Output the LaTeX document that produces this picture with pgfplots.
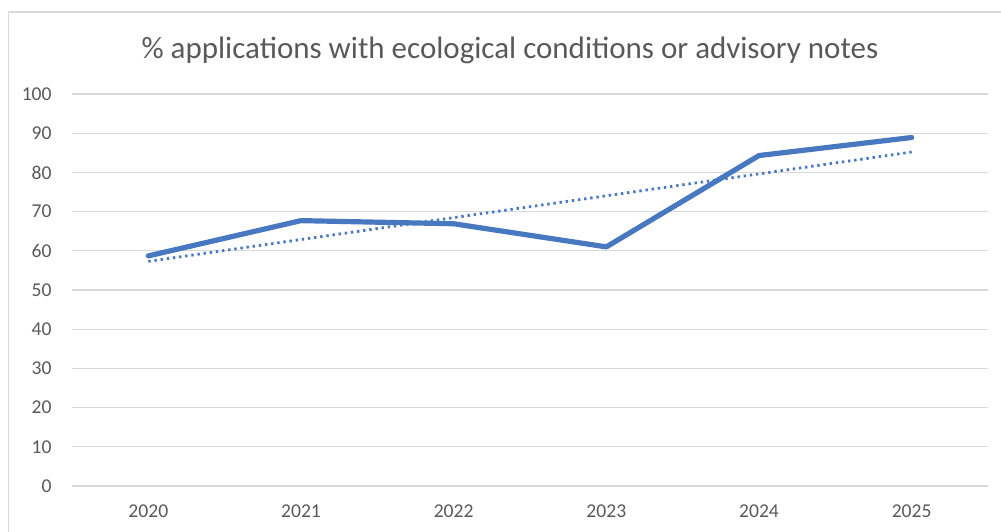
\documentclass[border=0pt]{standalone}
\usepackage{pgfplots}
\pgfplotsset{compat=1.18}
\usepackage{fontspec}
\setmainfont{Carlito}
\definecolor{gridgray}{RGB}{217,217,217}
\definecolor{txtgray}{RGB}{89,89,89}
\definecolor{lineblue}{RGB}{72,120,192}
\begin{document}
\begin{tikzpicture}
\useasboundingbox (0,0) rectangle (500.5pt,265.5pt);
\draw[gridgray, line width=0.6pt] (4.3pt,-10pt) rectangle (520pt,259.5pt);
\node[text=txtgray, font=\fontsize{15.5}{18}\selectfont] at (255pt,240.5pt) {\% applications with ecological conditions or advisory notes};
\begin{axis}[
  at={(36pt,22.5pt)}, anchor=south west,
  scale only axis, width=458pt, height=196pt,
  xmin=-0.5, xmax=5.5, ymin=0, ymax=100,
  xtick={0,1,2,3,4,5},
  xticklabels={2020,2021,2022,2023,2024,2025},
  ytick={0,10,...,100},
  axis line style={draw=none},
  major tick length=0pt,
  ymajorgrids, grid style={gridgray, line width=0.6pt},
  tick label style={text=txtgray, font=\fontsize{9.8}{11}\selectfont},
  /pgf/number format/assume math mode=true,
  yticklabel style={anchor=east, inner sep=0pt, xshift=-10pt},
  xticklabel style={anchor=center, inner sep=0pt, yshift=-12.5pt},
  clip=false,
]
\addplot[lineblue, line width=1.4pt, dash pattern=on 1.2pt off 1.9pt] coordinates {(0,57.3) (5,85.2)};
\addplot[lineblue, line width=2.6pt, line join=round, line cap=round] coordinates {
(0,58.7) (1,67.7) (2,66.9) (3,61.0) (4,84.3) (5,88.9)};
\end{axis}
\end{tikzpicture}
\end{document}
